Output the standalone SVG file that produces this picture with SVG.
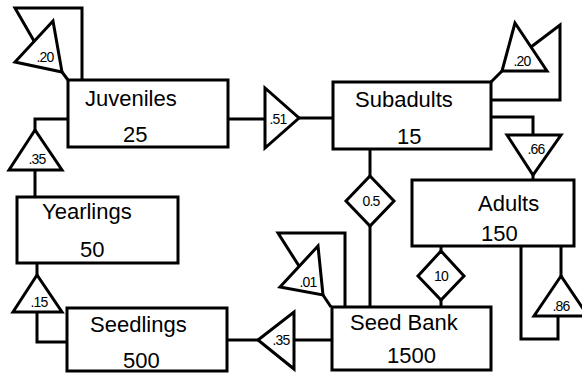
<svg xmlns="http://www.w3.org/2000/svg" width="582" height="374" viewBox="0 0 582 374">
<style>
.box{fill:#fff;stroke:#000;stroke-width:3;stroke-linejoin:miter}
.sh{fill:#fff;stroke:#000;stroke-width:3;stroke-linejoin:miter}
.ln{fill:none;stroke:#000;stroke-width:3;stroke-linejoin:miter}
.t{font-family:"Liberation Sans",Arial,sans-serif;font-size:22px;fill:#000}
.s{font-family:"Liberation Sans",Arial,sans-serif;font-size:14px;letter-spacing:-0.8px;fill:#000;text-anchor:middle}
</style>
<rect width="582" height="374" fill="#fff"/>
<g id="connectors">
<polyline class="ln" points="34,41 15,8 82,8 82,80"/>
<line class="ln" x1="62" y1="72" x2="68" y2="80"/>
<line class="ln" x1="228" y1="119" x2="265" y2="119"/>
<line class="ln" x1="299" y1="118" x2="333" y2="118"/>
<polyline class="ln" points="491,100 560,100 560,25 531,47"/>
<line class="ln" x1="491" y1="82" x2="502" y2="71"/>
<polyline class="ln" points="491,117 533,117 533,135"/>
<line class="ln" x1="533" y1="175" x2="533" y2="180"/>
<line class="ln" x1="561" y1="246" x2="561" y2="276"/>
<polyline class="ln" points="558,315 558,339 521,339 521,246"/>
<line class="ln" x1="441" y1="246" x2="441" y2="251"/>
<line class="ln" x1="441" y1="300" x2="441" y2="307"/>
<line class="ln" x1="370" y1="149" x2="370" y2="176"/>
<line class="ln" x1="370" y1="226" x2="370" y2="307"/>
<polyline class="ln" points="299,266 278,233 345,233 345,307"/>
<line class="ln" x1="323" y1="295" x2="331" y2="307"/>
<line class="ln" x1="227" y1="340" x2="258" y2="340"/>
<line class="ln" x1="294" y1="340" x2="332" y2="340"/>
<polyline class="ln" points="37,312 37,342 67,342"/>
<line class="ln" x1="37" y1="263" x2="37" y2="275"/>
<line class="ln" x1="35" y1="170" x2="35" y2="197"/>
<polyline class="ln" points="35,130 35,119 68,119"/>
</g>
<g id="rates">
<g id="r-juv-self"><polygon class="sh" points="53,21 15,62 62,72"/><text class="s" x="45" y="62">.20</text></g>
<g id="r-juv-sub"><polygon class="sh" points="265,88 265,148 299,118"/><text class="s" x="278" y="124">.51</text></g>
<g id="r-sub-self"><polygon class="sh" points="515,23 502,71 547,71"/><text class="s" x="522" y="66">.20</text></g>
<g id="r-sub-adu"><polygon class="sh" points="507,135 561,135 533,175"/><text class="s" x="536" y="154">.66</text></g>
<g id="r-adu-self"><polygon class="sh" points="561,276 534,316 588,316"/><text class="s" x="561" y="311">.86</text></g>
<g id="r-adu-seed"><polygon class="sh" points="441,251 464,276 441,300 418,276"/><text class="s" x="441" y="281">10</text></g>
<g id="r-sub-seed"><polygon class="sh" points="370,176 394,201 370,226 346,201"/><text class="s" x="371" y="206">0.5</text></g>
<g id="r-seed-self"><polygon class="sh" points="318,246 280,287 323,295"/><text class="s" x="308" y="287">.01</text></g>
<g id="r-seed-sdl"><polygon class="sh" points="258,340 294,312 294,369"/><text class="s" x="281" y="345">.35</text></g>
<g id="r-sdl-yr"><polygon class="sh" points="37,275 13,312 62,312"/><text class="s" x="39" y="307">.15</text></g>
<g id="r-yr-juv"><polygon class="sh" points="35,130 9,170 62,170"/><text class="s" x="37" y="164">.35</text></g>
</g>
<g id="juveniles"><rect class="box" x="68" y="80" width="160" height="67"/><text class="t" x="85" y="106">Juveniles</text><text class="t" x="123" y="142">25</text></g>
<g id="subadults"><rect class="box" x="333" y="82" width="158" height="67"/><text class="t" x="355" y="107">Subadults</text><text class="t" x="397" y="144">15</text></g>
<g id="adults"><rect class="box" x="412" y="180" width="162" height="66"/><text class="t" x="478" y="211">Adults</text><text class="t" x="481" y="241">150</text></g>
<g id="seedbank"><rect class="box" x="332" y="307" width="159" height="63"/><text class="t" x="350" y="330">Seed Bank</text><text class="t" x="387" y="363">1500</text></g>
<g id="yearlings"><rect class="box" x="17" y="197" width="161" height="66"/><text class="t" x="42" y="219">Yearlings</text><text class="t" x="80" y="257">50</text></g>
<g id="seedlings"><rect class="box" x="67" y="308" width="160" height="63"/><text class="t" x="90" y="332">Seedlings</text><text class="t" x="123" y="368">500</text></g>
</svg>
